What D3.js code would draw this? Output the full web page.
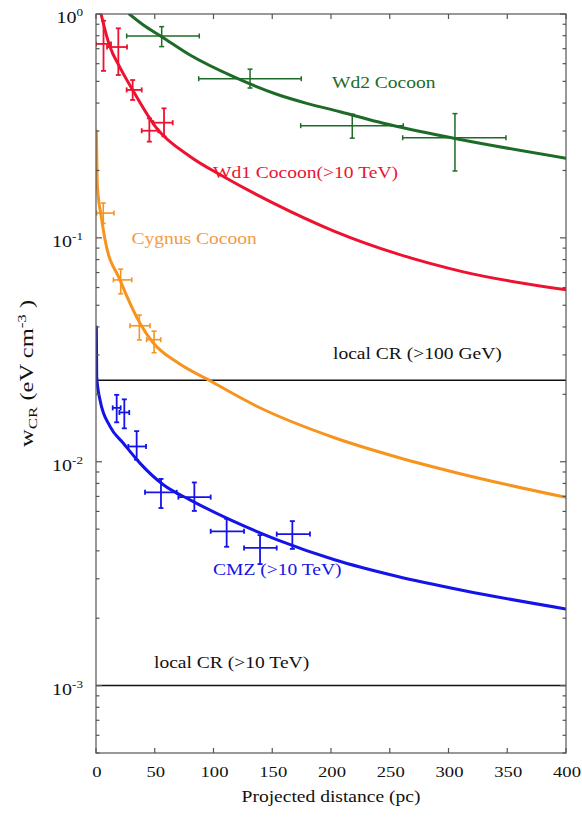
<!DOCTYPE html>
<html>
<head>
<meta charset="utf-8">
<script src="https://cdn.jsdelivr.net/npm/d3@7"></script>
<style>
  body { margin: 0; background: #fff; }
  text { font-family: "Liberation Serif", "Times New Roman", serif; }
</style>
</head>
<body>
<svg id="chart" width="582" height="818"></svg>
<script>
// Cosmic-ray energy density profiles around young star clusters.
// Measurements: [distance, distLo, distHi, w, wLo, wHi]  (pc, eV cm^-3)
const wd2Points = [
  [55.9, 26.1, 87.9, 0.798, 0.715, 0.878],
  [131.1, 87.4, 174.7, 0.514, 0.467, 0.567],
  [218.1, 174.2, 261.5, 0.317, 0.279, 0.357],
  [305.5, 261.0, 348.9, 0.280, 0.199, 0.359]
];
const wd1Points = [
  [6.4, 0.0, 12.8, 0.735, 0.557, 0.933],
  [19.0, 9.4, 26.4, 0.712, 0.534, 0.863],
  [31.2, 26.1, 38.9, 0.458, 0.413, 0.507],
  [45.4, 38.9, 53.0, 0.301, 0.269, 0.342],
  [57.9, 48.8, 65.3, 0.327, 0.284, 0.379]
];
const cygnusPoints = [
  [6.2, 0.6, 15.3, 0.129, 0.116, 0.143],
  [21.0, 14.8, 30.4, 0.0649, 0.0563, 0.0725],
  [36.9, 28.9, 46.0, 0.0405, 0.0350, 0.0452],
  [49.4, 43.1, 55.1, 0.0351, 0.0307, 0.0383]
];
const cmzPoints = [
  [17.6, 14.2, 21.0, 0.0174, 0.0150, 0.0199],
  [24.1, 19.9, 28.3, 0.0166, 0.0141, 0.0190],
  [34.6, 27.5, 42.6, 0.0117, 0.0102, 0.0137],
  [55.3, 41.7, 68.7, 0.00730, 0.00621, 0.00838],
  [83.7, 70.1, 97.6, 0.00695, 0.00603, 0.00808],
  [111.2, 97.6, 126.0, 0.00489, 0.00417, 0.00556],
  [139.6, 126.0, 153.8, 0.00412, 0.00349, 0.00470],
  [167.1, 153.8, 182.1, 0.00475, 0.00408, 0.00543]
];

// Model profiles: [distance, w]
const wd2Curve = [[28.3, 1.0], [40.3, 0.893], [55.9, 0.792], [80.0, 0.656], [116.9, 0.525],
  [153.8, 0.438], [179.3, 0.399], [207.7, 0.366], [244.5, 0.325], [305.5, 0.278], [400, 0.227]];
const wd1Curve = [[4.3, 1.0], [7.7, 0.848], [11.9, 0.714], [20.0, 0.582], [31.2, 0.458],
  [51.6, 0.309], [80.0, 0.231], [108.4, 0.188], [150.9, 0.143], [203, 0.107],
  [255.9, 0.085], [312.6, 0.0705], [400, 0.0586]];
const cygnusCurve = [[0.3, 0.30], [1.0, 0.18], [2.0, 0.152], [4.0, 0.129], [7.7, 0.098],
  [20.4, 0.0649], [37.4, 0.0416], [48.8, 0.0339], [70, 0.0276], [97, 0.0230],
  [136.8, 0.0177], [203, 0.0128], [255.9, 0.01050], [312.6, 0.00877], [400, 0.00693]];
const cmzCurve = [[0.3, 0.040], [0.6, 0.024], [3.4, 0.0189], [11.9, 0.0144], [23.3, 0.0121],
  [37.4, 0.00986], [57.3, 0.00789], [80.0, 0.00676], [114.0, 0.00551], [153.8, 0.00449],
  [203, 0.00365], [255.9, 0.00308], [312.6, 0.00266], [400, 0.00220]];

// Local cosmic-ray reference levels
const localLevels = [0.0231, 0.001];
const localLabels = ["local CR (>100 GeV)", "local CR (>10 TeV)"];

const xTicks = [0, 50, 100, 150, 200, 250, 300, 350, 400];
const yDecades = [-3, -2, -1, 0];

const svg = d3.select("#chart");
const plotLeft = 96, plotRight = 566, plotTop = 14, plotBottom = 753;
const x = d3.scaleLinear().domain([0, 400]).range([plotLeft, plotRight]);
const y = d3.scaleLog().domain([5e-4, 1]).range([plotBottom, plotTop]);

svg.append("rect").attr("width", 582).attr("height", 818).attr("fill", "#fff");

svg.append("defs").append("clipPath").attr("id", "plot")
  .append("rect").attr("x", plotLeft).attr("y", plotTop)
  .attr("width", plotRight - plotLeft).attr("height", plotBottom - plotTop);

const plot = svg.append("g").attr("clip-path", "url(#plot)");

// Reference lines
plot.selectAll("line.local").data(localLevels).join("line")
  .attr("class", "local")
  .attr("x1", x(0)).attr("x2", x(400))
  .attr("y1", d => y(d)).attr("y2", d => y(d))
  .attr("stroke", "#111").attr("stroke-width", 1.5);

const series = [
  { curve: wd2Curve, pts: wd2Points, color: "#1d6b27", bar: 1.5 },
  { curve: wd1Curve, pts: wd1Points, color: "#ec1230", bar: 1.8 },
  { curve: cygnusCurve, pts: cygnusPoints, color: "#f7941e", bar: 1.6 },
  { curve: cmzCurve, pts: cmzPoints, color: "#1414e6", bar: 1.8 }
];

const line = d3.line().x(d => x(d[0])).y(d => y(d[1])).curve(d3.curveMonotoneX);

series.forEach(s => {
  plot.append("path").datum(s.curve)
    .attr("d", line).attr("fill", "none")
    .attr("stroke", s.color).attr("stroke-width", 3)
    .attr("stroke-linecap", "round");

  const cap = 2.5;
  const g = plot.append("g").attr("stroke", s.color).attr("stroke-width", s.bar).attr("fill", "none");
  s.pts.forEach(p => {
    const [r, r0, r1, w, w0, w1] = p;
    const cx = x(r), cy = y(w);
    g.append("line").attr("x1", x(r0)).attr("x2", x(r1)).attr("y1", cy).attr("y2", cy);
    g.append("line").attr("x1", cx).attr("x2", cx).attr("y1", y(w0)).attr("y2", y(w1));
    g.append("line").attr("x1", x(r0)).attr("x2", x(r0)).attr("y1", cy - cap).attr("y2", cy + cap);
    g.append("line").attr("x1", x(r1)).attr("x2", x(r1)).attr("y1", cy - cap).attr("y2", cy + cap);
    g.append("line").attr("x1", cx - cap).attr("x2", cx + cap).attr("y1", y(w0)).attr("y2", y(w0));
    g.append("line").attr("x1", cx - cap).attr("x2", cx + cap).attr("y1", y(w1)).attr("y2", y(w1));
  });
});

// Frame and ticks
const axes = svg.append("g").attr("stroke", "#555").attr("stroke-width", 1.2);
axes.append("rect").attr("x", plotLeft).attr("y", plotTop)
  .attr("width", plotRight - plotLeft).attr("height", plotBottom - plotTop).attr("fill", "none");

xTicks.forEach(t => {
  axes.append("line").attr("x1", x(t)).attr("x2", x(t)).attr("y1", plotBottom).attr("y2", plotBottom - 5);
  axes.append("line").attr("x1", x(t)).attr("x2", x(t)).attr("y1", plotTop).attr("y2", plotTop + 5);
});

const yMinor = [];
yDecades.forEach(e => {
  for (let m = 1; m <= 9; m++) {
    const v = m * Math.pow(10, e - 1);
    if (v >= 5e-4 && v <= 1) yMinor.push({ v, major: m === 1 });
  }
});
yMinor.push({ v: 1, major: true });
yMinor.forEach(t => {
  const len = t.major ? 6 : 3.5;
  axes.append("line").attr("x1", plotLeft).attr("x2", plotLeft + len).attr("y1", y(t.v)).attr("y2", y(t.v));
  axes.append("line").attr("x1", plotRight).attr("x2", plotRight - len).attr("y1", y(t.v)).attr("y2", y(t.v));
});

// Text set slightly wide, as in the printed figure
function label(str, px, py, opts = {}) {
  return svg.append("text")
    .attr("transform", `translate(${px},${py}) scale(${opts.sx || 1.15},1)`)
    .attr("text-anchor", opts.anchor || "start")
    .attr("font-size", opts.size || 17)
    .attr("fill", opts.color || "#111")
    .text(str);
}

// X tick labels
xTicks.forEach(t => label(String(t), x(t) + 1, 777, { anchor: "middle", size: 15.5, sx: 1.2 }));

// Y tick labels: 10 with exponent
yDecades.forEach(e => {
  const t = svg.append("text")
    .attr("transform", `translate(83,${y(Math.pow(10, e)) + 9}) scale(1.25,1)`)
    .attr("text-anchor", "end").attr("font-size", 16).attr("fill", "#111");
  t.append("tspan").text("10");
  t.append("tspan").attr("font-size", 10.5).attr("dy", -7).text(e === 0 ? "0" : String(e));
});

// Axis titles
label("Projected distance (pc)", 331, 802, { anchor: "middle" });

const yt = svg.append("text")
  .attr("transform", "translate(33,447) rotate(-90) scale(1.36,1)")
  .attr("font-size", 18).attr("fill", "#111");
yt.append("tspan").text("w");
yt.append("tspan").attr("font-size", 12.5).attr("dy", 4).text("CR");
yt.append("tspan").attr("dy", -4).text(" (eV cm");
yt.append("tspan").attr("font-size", 12.5).attr("dy", -7).text("-3");
yt.append("tspan").attr("dy", 7).text(" )");

// Series names
label("Wd2 Cocoon", 332, 88, { color: "#1d6b27" });
label("Wd1 Cocoon(>10 TeV)", 213, 178, { color: "#ec1230" });
label("Cygnus Cocoon", 131.5, 244, { color: "#f39a45" });
label("CMZ (>10 TeV)", 213, 575, { color: "#1414e6" });
label(localLabels[0], 333, 359);
label(localLabels[1], 154, 668);
</script>
</body>
</html>
